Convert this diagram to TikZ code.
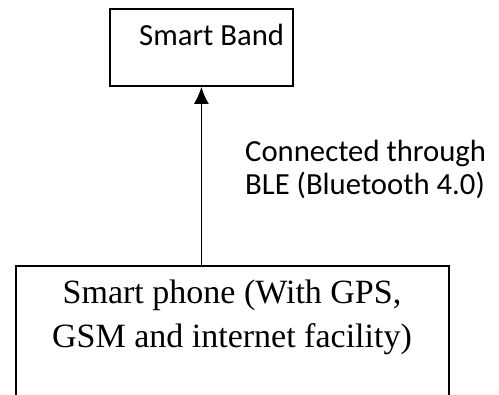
\documentclass[tikz,border=0pt]{standalone}
\usepackage{fontspec}
\setmainfont{Liberation Serif}
\newfontfamily\calib{Carlito}
\usetikzlibrary{arrows.meta}
\tikzset{
  boxstyle/.style={draw=black, line width=1.8pt, inner sep=0pt},
  serifstyle/.style={inner sep=0pt, align=center, font=\fontsize{34}{44}\selectfont},
  sansstyle/.style={inner sep=0pt, align=left, font=\calib\fontsize{30.7}{33.3}\selectfont},
  link/.style={draw=black, line width=1.8pt, -{Latex[length=17pt,width=15pt]}}
}
\begin{document}
\begin{tikzpicture}[x=1pt,y=-1pt]
\useasboundingbox (0,0) rectangle (499,395);
\clip (0,0) rectangle (499,395);
\node[boxstyle, anchor=north west, minimum width=183pt, minimum height=77pt] (band) at (109,8) {};
\node[sansstyle, anchor=base west] (bandtext) at (139,46) {Smart Band};
\node[boxstyle, anchor=north west, minimum width=433pt, minimum height=180pt] (phone) at (15,265) {};
\node[serifstyle, anchor=base] (phonetext) at (232,348) {Smart phone (With GPS,\\GSM and internet facility)};
\node[sansstyle, anchor=base west] (linktext) at (245,195) {Connected through\\BLE (Bluetooth 4.0)};
\draw[link] (band.south |- phone.north) -- (band.south);
\end{tikzpicture}
\end{document}
